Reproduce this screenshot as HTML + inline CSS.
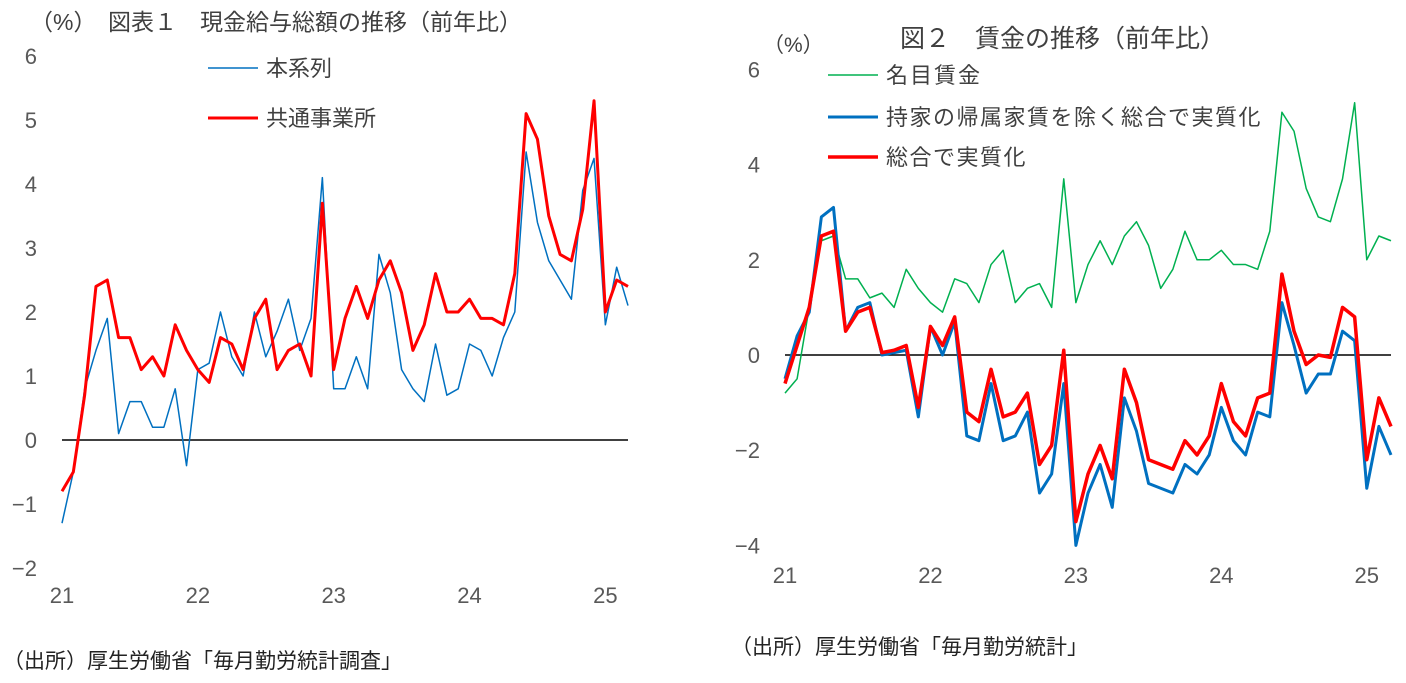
<!DOCTYPE html>
<html><head><meta charset="utf-8"><style>
body{margin:0;background:#fff;}
svg text{font-family:"Liberation Sans","Noto Sans CJK JP",sans-serif;}
</style></head><body>
<svg id="svg" width="1406" height="678" xmlns="http://www.w3.org/2000/svg">
<text x="30" y="30" font-size="23" fill="#404040">（%）　図表１　現金給与総額の推移（前年比）</text>
<text x="763" y="52" font-size="21" fill="#404040">（%）</text>
<text x="900" y="47" font-size="25" fill="#404040">図２　賃金の推移（前年比）</text>
<text x="3" y="668" font-size="21" fill="#222">（出所）厚生労働省「毎月勤労統計調査」</text>
<text x="731" y="654" font-size="21" fill="#222">（出所）厚生労働省「毎月勤労統計」</text>
<g id="c1"></g>
<g id="c2"></g>
</svg>
<script>
const years = ["21","22","23","24","25"];
const c1Ticks = [-2,-1,0,1,2,3,4,5,6];
const c2Ticks = [-4,-2,0,2,4,6];
const c1Base = [-1.3,-0.5,0.8,1.4,1.9,0.1,0.6,0.6,0.2,0.2,0.8,-0.4, 1.1,1.2,2.0,1.3,1.0,2.0,1.3,1.7,2.2,1.4,1.9,4.1, 0.8,0.8,1.3,0.8,2.9,2.3,1.1,0.8,0.6,1.5,0.7,0.8, 1.5,1.4,1.0,1.6,2.0,4.5,3.4,2.8,2.5,2.2,3.9,4.4, 1.8,2.7,2.1];
const c1Common = [-0.8,-0.5,0.7,2.4,2.5,1.6,1.6,1.1,1.3,1.0,1.8,1.4, 1.1,0.9,1.6,1.5,1.1,1.9,2.2,1.1,1.4,1.5,1.0,3.7, 1.1,1.9,2.4,1.9,2.5,2.8,2.3,1.4,1.8,2.6,2.0,2.0, 2.2,1.9,1.9,1.8,2.6,5.1,4.7,3.5,2.9,2.8,3.6,5.3, 2.0,2.5,2.4];
const c2Nominal = [-0.8,-0.5,1.0,2.4,2.5,1.6,1.6,1.2,1.3,1.0,1.8,1.4, 1.1,0.9,1.6,1.5,1.1,1.9,2.2,1.1,1.4,1.5,1.0,3.7, 1.1,1.9,2.4,1.9,2.5,2.8,2.3,1.4,1.8,2.6,2.0,2.0, 2.2,1.9,1.9,1.8,2.6,5.1,4.7,3.5,2.9,2.8,3.7,5.3, 2.0,2.5,2.4];
const c2RealExRent = [-0.5,0.4,0.9,2.9,3.1,0.5,1.0,1.1,0.0,0.05,0.1,-1.3, 0.6,0.0,0.7,-1.7,-1.8,-0.6,-1.8,-1.7,-1.2,-2.9,-2.5,-0.6, -4.0,-2.9,-2.3,-3.2,-0.9,-1.6,-2.7,-2.8,-2.9,-2.3,-2.5,-2.1, -1.1,-1.8,-2.1,-1.2,-1.3,1.1,0.2,-0.8,-0.4,-0.4,0.5,0.3, -2.8,-1.5,-2.1];
const c2Real = [-0.6,0.2,1.0,2.5,2.6,0.5,0.9,1.0,0.05,0.1,0.2,-1.1, 0.6,0.2,0.8,-1.2,-1.4,-0.3,-1.3,-1.2,-0.8,-2.3,-1.9,0.1, -3.5,-2.5,-1.9,-2.6,-0.3,-1.0,-2.2,-2.3,-2.4,-1.8,-2.1,-1.7, -0.6,-1.4,-1.7,-0.9,-0.8,1.7,0.5,-0.2,0.0,-0.05,1.0,0.8, -2.2,-0.9,-1.5];

const NS="http://www.w3.org/2000/svg";
function mk(parent,tag,attrs){const e=document.createElementNS(NS,tag);for(const k in attrs)e.setAttribute(k,attrs[k]);parent.appendChild(e);return e;}

function drawChart(g,cfg){
  const x=i=>cfg.x0+i*cfg.dx;
  const y=v=>cfg.y0-v*cfg.dy;
  cfg.ticks.forEach(t=>{
    const e=mk(g,"text",{x:cfg.ylx,y:y(t)+8,"font-size":22,fill:"#595959","text-anchor":"end"});
    e.textContent=t<0?"\u2212"+(-t):String(t);
    
    
  });
  years.forEach((yr,k)=>{
    const e=mk(g,"text",{x:x(k*12),y:cfg.xly,"font-size":22,fill:"#595959","text-anchor":"middle"});
    e.textContent=yr;
    
    
  });
  const z=mk(g,"line",{x1:cfg.x0,x2:x(cfg.n-1),y1:y(0),y2:y(0),stroke:"#000","stroke-width":1.5});
  
  
  cfg.series.forEach(s=>{
    const p=mk(g,"polyline",{points:s.data.map((v,i)=>x(i)+","+y(v)).join(" "),fill:"none",stroke:s.color,"stroke-width":s.w,"stroke-linejoin":"round"});
    
    
    const l=mk(g,"line",{x1:s.lx,x2:s.lx+50,y1:s.ly,y2:s.ly,stroke:s.color,"stroke-width":s.w});
    
    
    const t=mk(g,"text",{x:s.lx+58,y:s.ly+8,"font-size":22,fill:"#404040","letter-spacing":s.ls||0});
    t.textContent=s.label;
    
    
  });
}
drawChart(document.getElementById("c1"),{x0:62,dx:11.32,y0:440,dy:64,n:51,ticks:c1Ticks,ylx:37,xly:603,
  series:[
    {name:"series-base",label:"本系列",data:c1Base,color:"#0070C0",w:1.5,lx:208,ly:68},
    {name:"series-common",label:"共通事業所",data:c1Common,color:"#FF0000",w:3,lx:208,ly:118}
  ]});
drawChart(document.getElementById("c2"),{x0:785,dx:12.12,y0:355,dy:47.6,n:51,ticks:c2Ticks,ylx:760,xly:583,
  series:[
    {name:"series-nominal",label:"名目賃金",data:c2Nominal,color:"#00B050",w:1.5,lx:828,ly:75,ls:2},
    {name:"series-real-ex-rent",label:"持家の帰属家賃を除く総合で実質化",data:c2RealExRent,color:"#0070C0",w:3,lx:828,ly:117,ls:1.5},
    {name:"series-real",label:"総合で実質化",data:c2Real,color:"#FF0000",w:3.5,lx:828,ly:157,ls:1.5}
  ]});
</script>
</body></html>
